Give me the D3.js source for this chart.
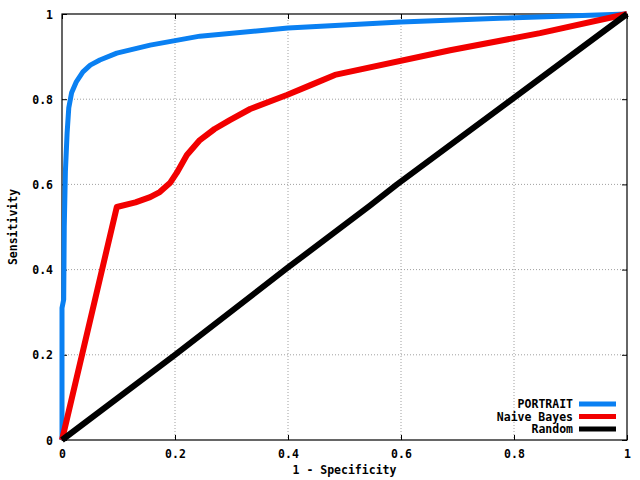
<!DOCTYPE html>
<html lang="en">
<head>
<meta charset="UTF-8">
<title>ROC</title>
<script src="https://d3js.org/d3.v7.min.js"></script>
<style>
  html, body { margin: 0; padding: 0; background: #fff; overflow: hidden; }
  svg { display: block; }
  text { font-family: "DejaVu Sans Mono", "Liberation Mono", monospace; font-weight: bold; font-size: 11.5px; }
</style>
</head>
<body>
<svg width="640" height="480" id="mainsvg"></svg>
<script>
// data: [1 - specificity, sensitivity]
const portrait = [
  [0, 0], [0, 0.31], [0.003, 0.33], [0.004, 0.5], [0.006, 0.63], [0.009, 0.72],
  [0.012, 0.78], [0.017, 0.815], [0.025, 0.84], [0.037, 0.864], [0.05, 0.88],
  [0.067, 0.892], [0.097, 0.908], [0.156, 0.927], [0.244, 0.948], [0.4, 0.967],
  [0.6, 0.981], [0.775, 0.99], [1, 1]
];
const naiveBayes = [
  [0, 0], [0.097, 0.547], [0.13, 0.558], [0.156, 0.57], [0.173, 0.582],
  [0.191, 0.603], [0.203, 0.627], [0.221, 0.669], [0.244, 0.704], [0.27, 0.73],
  [0.297, 0.751], [0.333, 0.777], [0.398, 0.81], [0.44, 0.833], [0.483, 0.857],
  [0.687, 0.915], [0.846, 0.955], [1, 1]
];
const random = [[0, 0], [0.2, 0.2], [0.4, 0.405], [0.545, 0.55], [0.593, 0.6], [1, 1]];

const seriesNames = ['PORTRAIT', 'Naive Bayes', 'Random'];
const seriesColors = ['#0a80f2', '#f20000', '#000000'];
const ticks = [0, 0.2, 0.4, 0.6, 0.8, 1];
const tickLabels = ['0', '0.2', '0.4', '0.6', '0.8', '1'];

const svg = d3.select('#mainsvg');
const margin = {top: 14, right: 13, bottom: 40, left: 62};
const innerWidth = 640 - margin.left - margin.right;
const innerHeight = 480 - margin.top - margin.bottom;

const x = d3.scaleLinear().domain([0, 1]).range([0, innerWidth]);
const y = d3.scaleLinear().domain([0, 1]).range([innerHeight, 0]);

const g = svg.append('g').attr('transform', `translate(${margin.left},${margin.top})`);

// grid
const inner = ticks.slice(1, -1);
g.selectAll('.gx').data(inner).join('line')
  .attr('x1', d => x(d)).attr('x2', d => x(d)).attr('y1', 0).attr('y2', innerHeight)
  .attr('stroke', '#a0a0a0').attr('stroke-dasharray', '1,2');
g.selectAll('.gy').data(inner).join('line')
  .attr('y1', d => y(d)).attr('y2', d => y(d)).attr('x1', 0).attr('x2', innerWidth)
  .attr('stroke', '#a0a0a0').attr('stroke-dasharray', '1,2');

// axes, ticks inward on all four sides
const fmt = (d, i) => tickLabels[i];
const xb = g.append('g').attr('transform', `translate(0,${innerHeight})`)
  .call(d3.axisBottom(x).tickValues(ticks).tickFormat(fmt).tickSizeInner(-5).tickSizeOuter(0).tickPadding(10));
const xt = g.append('g')
  .call(d3.axisTop(x).tickValues(ticks).tickSizeInner(-5).tickSizeOuter(0));
const yl = g.append('g')
  .call(d3.axisLeft(y).tickValues(ticks).tickFormat(fmt).tickSizeInner(-5).tickSizeOuter(0).tickPadding(9));
const yr = g.append('g').attr('transform', `translate(${innerWidth},0)`)
  .call(d3.axisRight(y).tickValues(ticks).tickSizeInner(-5).tickSizeOuter(0));
[xt, yr].forEach(a => a.selectAll('text').remove());
[xb, xt, yl, yr].forEach(a => {
  a.select('.domain').remove();
  a.selectAll('line').attr('stroke', '#000');
  a.selectAll('text').attr('fill', '#000').style('font-size', '11.5px');
});
yl.selectAll('text').attr('dy', '0.35em');

g.append('rect').attr('width', innerWidth).attr('height', innerHeight)
  .attr('fill', 'none').attr('stroke', '#000').attr('stroke-width', 1.2);

// curves
const line = d3.line().x(d => x(d[0])).y(d => y(d[1]));
const series = [portrait, naiveBayes, random];
const widths = [5, 6, 6];
g.append('g').selectAll('path').data(series).join('path')
  .attr('d', line).attr('fill', 'none')
  .attr('stroke', (d, i) => seriesColors[i])
  .attr('stroke-width', (d, i) => widths[i])
  .attr('stroke-linejoin', 'round');

// legend
const legend = svg.append('g');
seriesNames.forEach((name, i) => {
  const ly = 404 + i * 12.5;
  legend.append('text').attr('x', 573).attr('y', ly).attr('dy', '0.35em')
    .attr('text-anchor', 'end').text(name);
  legend.append('line').attr('x1', 579).attr('x2', 616).attr('y1', ly).attr('y2', ly)
    .attr('stroke', seriesColors[i]).attr('stroke-width', 5);
});

// axis titles
svg.append('text').attr('x', margin.left + innerWidth / 2).attr('y', 474)
  .attr('text-anchor', 'middle').text('1 - Specificity');
svg.append('text').attr('transform', `translate(17,${margin.top + innerHeight / 2}) rotate(-90)`)
  .attr('text-anchor', 'middle').text('Sensitivity');
</script>
</body>
</html>
